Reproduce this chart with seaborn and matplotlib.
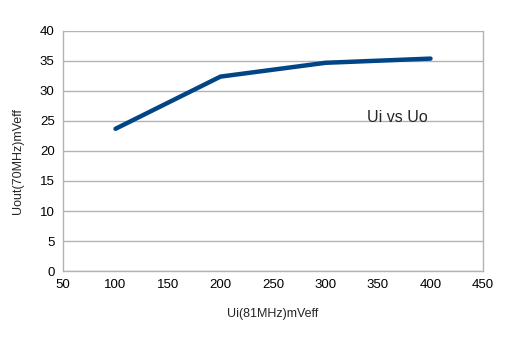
import matplotlib
matplotlib.use("Agg")
import matplotlib.pyplot as plt
import seaborn as sns
import pandas as pd

ui = [100, 200, 300, 400]
uo = [23.7, 32.4, 34.7, 35.4]
x_ticks = [50, 100, 150, 200, 250, 300, 350, 400, 450]
y_ticks = [0, 5, 10, 15, 20, 25, 30, 35, 40]

sns.set_theme(style="white")
plt.rcParams['font.family'] = ['Liberation Sans', 'DejaVu Sans']

df = pd.DataFrame({"Ui": ui, "Uo": uo})
fig = plt.figure(figsize=(5.13, 3.40), dpi=100)
ax = fig.add_axes([63/513, 69/340, 420/513, 240/340])
sns.lineplot(data=df, x="Ui", y="Uo", ax=ax, color="#004586", linewidth=3.2)

ax.set_xlim(50, 450)
ax.set_ylim(0, 40)
ax.set_xticks(x_ticks)
ax.set_yticks(y_ticks)
ax.yaxis.grid(True, color="#b3b3b3", linewidth=1)
ax.set_axisbelow(True)
for s in ["left", "bottom", "right"]:
    ax.spines[s].set_color("#b3b3b3")
    ax.spines[s].set_linewidth(1)
ax.spines["top"].set_visible(False)
ax.tick_params(axis="both", which="both", direction="out", length=4, width=1,
               color="#b3b3b3", labelsize=9.5, labelcolor="#000000", pad=2)
ax.set_xlabel("Ui(81MHz)mVeff", fontsize=9, labelpad=12)
ax.set_ylabel("Uout(70MHz)mVeff", fontsize=9)
ax.yaxis.set_label_coords(-0.092, 0.46)
ax.text(368, 25.5, "Ui vs Uo", fontsize=11.5, ha="center", va="center")
fig.savefig("out.png", dpi=100)
